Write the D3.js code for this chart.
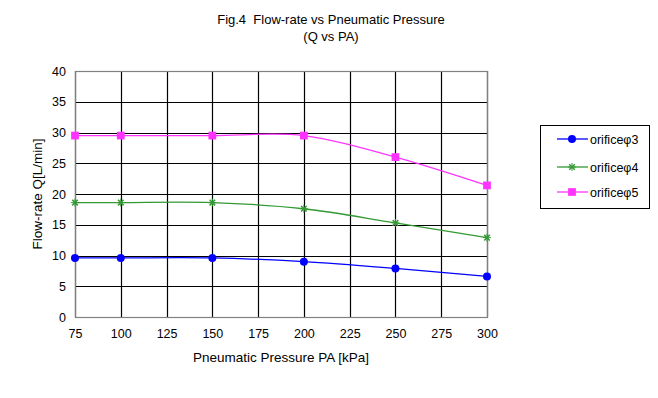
<!DOCTYPE html>
<html><head><meta charset="utf-8">
<script src="https://cdn.jsdelivr.net/npm/d3@7"></script>
<style>body{margin:0;background:#fff}svg{display:block;font-family:"Liberation Sans",Arial,sans-serif}text{white-space:pre}</style>
</head><body>
<svg id="c" width="658" height="398"></svg>
<script>
const pressures = [75, 100, 150, 200, 250, 300];
const orifice3 = [9.6, 9.6, 9.6, 9.0, 7.9, 6.6];
const orifice4 = [18.6, 18.6, 18.6, 17.6, 15.3, 12.9];
const orifice5 = [29.5, 29.5, 29.5, 29.5, 26.0, 21.4];
const seriesNames = ["orificeφ3", "orificeφ4", "orificeφ5"];
const xTicks = [75, 100, 125, 150, 175, 200, 225, 250, 275, 300];
const yTicks = [0, 5, 10, 15, 20, 25, 30, 35, 40];

const colors = ["#0000ff", "#339933", "#ff33ff"];
const markers = ["circle", "star", "square"];
const series = [orifice3, orifice4, orifice5].map((v, i) => ({name: seriesNames[i], values: v, color: colors[i], marker: markers[i]}));

const svg = d3.select("#c");
const L = 75, R = 487, T = 71, B = 317;
const x = d3.scaleLinear().domain([75, 300]).range([L, R]);
const y = d3.scaleLinear().domain([0, 40]).range([B, T]);

// grid
const g = svg.append("g");
g.selectAll(".hg").data(yTicks).join("line")
  .attr("x1", L).attr("x2", R).attr("y1", d => Math.round(y(d)) + 0.5).attr("y2", d => Math.round(y(d)) + 0.5)
  .attr("stroke", "#000").attr("stroke-width", 1.2);
g.selectAll(".vg").data(xTicks).join("line")
  .attr("y1", T).attr("y2", B).attr("x1", d => Math.round(x(d)) + 0.5).attr("x2", d => Math.round(x(d)) + 0.5)
  .attr("stroke", "#000").attr("stroke-width", 1.2);
g.append("rect").attr("x", L + 0.5).attr("y", T + 0.5).attr("width", R - L).attr("height", B - T)
  .attr("fill", "none").attr("stroke", "#808080").attr("stroke-width", 1.2);

// axes via d3 axis (labels only)
const xa = svg.append("g").attr("transform", `translate(0,${B})`)
  .call(d3.axisBottom(x).tickValues(xTicks).tickSize(0).tickPadding(12));
const ya = svg.append("g").attr("transform", `translate(${L},0)`)
  .call(d3.axisLeft(y).tickValues(yTicks).tickSize(0).tickPadding(9));
[xa, ya].forEach(a => { a.select(".domain").remove(); a.selectAll("text").attr("font-size", 12.5).attr("fill", "#000").attr("font-family", "Liberation Sans, Arial, sans-serif"); });

// lines
const line = d3.line().x((d, i) => x(pressures[i])).y(d => y(d)).curve(d3.curveCatmullRom.alpha(0.5));
const sym = {circle: d3.symbolCircle, square: d3.symbolSquare};
const symSize = {circle: 50, square: 60};

function drawMarker(sel, s) {
  if (s.marker === "star") {
    sel.append("path").attr("d", d3.symbol().type(d3.symbolTimes).size(22)()).attr("stroke", s.color).attr("stroke-width", 1.5).attr("fill", "none");
    sel.append("path").attr("d", d3.symbol().type(d3.symbolPlus).size(22)()).attr("stroke", s.color).attr("stroke-width", 1).attr("fill", "none");
  } else {
    sel.append("path").attr("d", d3.symbol().type(sym[s.marker]).size(symSize[s.marker])()).attr("fill", s.color);
  }
}

series.forEach(s => {
  svg.append("path").datum(s.values).attr("d", line).attr("fill", "none").attr("stroke", s.color).attr("stroke-width", 1.3);
  s.values.forEach((v, i) => {
    const m = svg.append("g").attr("transform", `translate(${x(pressures[i])},${y(v)})`);
    drawMarker(m, s);
  });
});

// titles
svg.append("text").attr("x", 331).attr("y", 24).attr("text-anchor", "middle").attr("font-size", 13).text("Fig.4  Flow-rate vs Pneumatic Pressure");
svg.append("text").attr("x", 331).attr("y", 41).attr("text-anchor", "middle").attr("font-size", 13).text("(Q vs PA)");
svg.append("text").attr("x", 281).attr("y", 362).attr("text-anchor", "middle").attr("font-size", 13.5).text("Pneumatic Pressure PA [kPa]");
svg.append("text").attr("transform", `translate(42,${(T + B) / 2}) rotate(-90)`).attr("text-anchor", "middle").attr("font-size", 13.5).text("Flow-rate Q[L/min]");

// legend
const lg = svg.append("g");
lg.append("rect").attr("x", 540.5).attr("y", 125.5).attr("width", 109).attr("height", 83).attr("fill", "#fff").attr("stroke", "#000").attr("stroke-width", 1);
const ly = [139, 167, 192];
series.forEach((s, i) => {
  lg.append("line").attr("x1", 557).attr("x2", 588).attr("y1", ly[i]).attr("y2", ly[i]).attr("stroke", s.color).attr("stroke-width", 1.3);
  const m = lg.append("g").attr("transform", `translate(572,${ly[i]})`);
  drawMarker(m, s);
  lg.append("text").attr("x", 590).attr("y", ly[i] + 4.5).attr("font-size", 12.5).text(s.name);
});
</script>
</body></html>
